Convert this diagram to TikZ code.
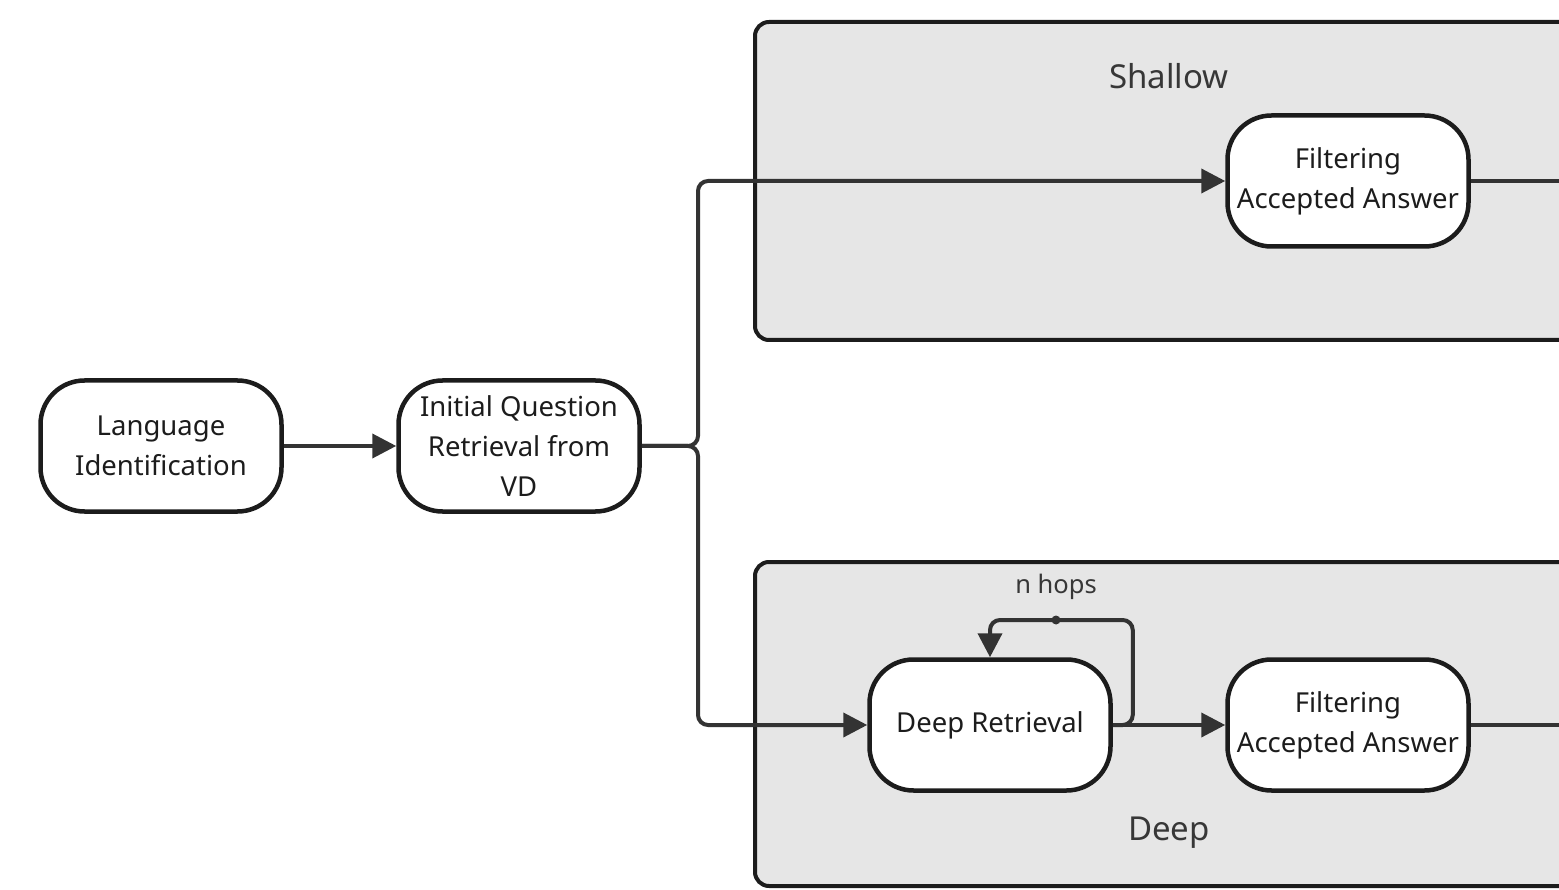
\documentclass[tikz,border=0pt]{standalone}
\usepackage{fontspec}
\setmainfont{Noto Sans}
\usepackage{tikz}
\usetikzlibrary{arrows.meta,positioning}
\usepackage{xcolor}
\definecolor{mydark}{RGB}{28,28,28}
\definecolor{myline}{RGB}{51,51,51}
\definecolor{mygroup}{RGB}{230,230,230}
\definecolor{mylabel}{RGB}{55,55,55}

\tikzset{
  stepbox/.style={draw=mydark,line width=4.5pt,fill=white,rounded corners=44pt,
    minimum width=241pt,minimum height=131pt,inner sep=0pt,align=center,
    text=mydark,font=\fontsize{27.5}{40}\selectfont},
  groupbox/.style={draw=mydark,line width=4pt,fill=mygroup,rounded corners=14pt},
  grouplabel/.style={text=mylabel,font=\fontsize{33}{38}\selectfont},
  flow/.style={draw=myline,line width=4pt,rounded corners=10pt},
  tip/.style={-{Triangle[length=24pt,width=24pt]}}
}

\begin{document}
\begin{tikzpicture}[x=1pt,y=-1pt]
    \clip (0,0) rectangle (1559,890);
    % the two branches
    \draw[groupbox] (755,22) rectangle (1600,340);
    \draw[groupbox] (755,562) rectangle (1600,886);
    \node[grouplabel] (shallowlabel) at (1169,76) {Shallow};
    \node[grouplabel] (deeplabel) at (1169,833) {Deep};

    \node[stepbox] (lang) at (161,446) {Language\\Identification};
    \node[stepbox] (init) at (519,446) {Initial Question\\Retrieval from\\VD};
    \node[stepbox] (filtshallow) at (1348,181) {Filtering\\Accepted Answer};
    \node[stepbox] (deepret) at (990,725) {Deep Retrieval};
    \node[stepbox] (filtdeep) at (1348,725) {Filtering\\Accepted Answer};

    \coordinate (split) at (698,446);
    \coordinate (hop) at (1056,620);
    \coordinate (outshallow) at (1600,181);
    \coordinate (outdeep) at (1600,725);

    \draw[flow,tip] (lang) -- (init);
    \draw[flow,tip] (init.east) -- (split) |- (filtshallow.west);
    \draw[flow,tip] (init.east) -- (split) |- (deepret.west);
    \draw[flow,tip] (deepret) -- (filtdeep);
    % loop back over the deep step
    \draw[flow,tip] (deepret.east) -- ++(20,0) |- (hop) -| (deepret.north);
    \fill[myline] (hop) circle (4.5pt);
    \node[text=mylabel,font=\fontsize{25.5}{30}\selectfont] (hoplabel) at (1056,587) {n hops};

    \draw[flow] (filtshallow) -- (outshallow);
    \draw[flow] (filtdeep) -- (outdeep);
  \end{tikzpicture}
\end{document}
